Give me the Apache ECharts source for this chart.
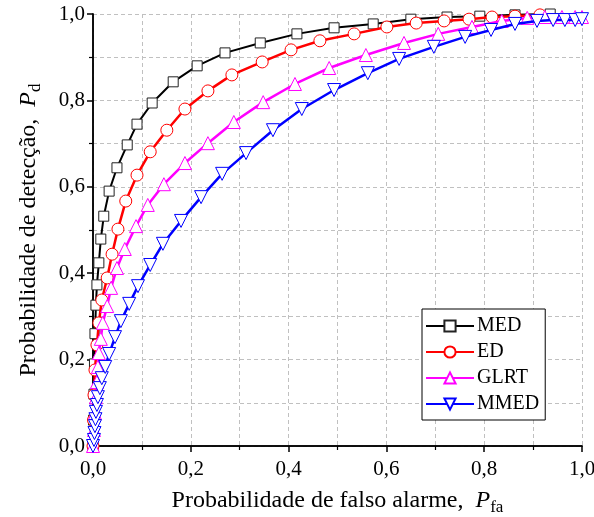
<!DOCTYPE html>
<html>
<head>
<meta charset="utf-8">
<script src="https://cdn.jsdelivr.net/npm/echarts@6/dist/echarts.min.js"></script>
<style>
  html, body { margin: 0; padding: 0; background: #fff; }
  #chart { width: 594px; height: 517px; }
</style>
</head>
<body>
<div id="chart"></div>
<script>
const seriesNames = ["MED", "ED", "GLRT", "MMED"];

const medX = [0, 0.001, 0.002, 0.003, 0.004, 0.006, 0.008, 0.012, 0.016, 0.022, 0.033, 0.049, 0.070, 0.090, 0.121, 0.164, 0.213, 0.270, 0.342, 0.417, 0.493, 0.573, 0.650, 0.724, 0.791, 0.863, 0.935, 1.0];
const medY = [0, 0.06, 0.12, 0.19, 0.26, 0.326, 0.373, 0.424, 0.479, 0.532, 0.590, 0.644, 0.697, 0.745, 0.794, 0.843, 0.880, 0.910, 0.933, 0.954, 0.968, 0.977, 0.988, 0.993, 0.995, 0.998, 1.0, 1.0];

const edX = [0, 0.001, 0.002, 0.004, 0.008, 0.012, 0.018, 0.029, 0.039, 0.051, 0.067, 0.090, 0.117, 0.151, 0.188, 0.235, 0.284, 0.346, 0.405, 0.464, 0.534, 0.601, 0.661, 0.718, 0.769, 0.816, 0.863, 0.914, 1.0];
const edY = [0, 0.06, 0.118, 0.176, 0.234, 0.285, 0.338, 0.389, 0.444, 0.502, 0.567, 0.627, 0.681, 0.731, 0.780, 0.822, 0.859, 0.889, 0.917, 0.938, 0.954, 0.970, 0.979, 0.984, 0.988, 0.993, 0.995, 0.998, 1.0];

const glrtX = [0, 0.002, 0.004, 0.006, 0.008, 0.010, 0.012, 0.016, 0.020, 0.029, 0.037, 0.049, 0.065, 0.088, 0.112, 0.145, 0.188, 0.235, 0.288, 0.348, 0.413, 0.483, 0.558, 0.636, 0.706, 0.775, 0.836, 0.888, 0.924, 0.959, 0.986, 1.0];
const glrtY = [0, 0.037, 0.076, 0.113, 0.148, 0.183, 0.215, 0.248, 0.285, 0.324, 0.366, 0.412, 0.456, 0.509, 0.558, 0.606, 0.655, 0.701, 0.750, 0.796, 0.838, 0.875, 0.905, 0.933, 0.954, 0.970, 0.984, 0.991, 0.993, 0.993, 0.993, 0.993];

const mmedX = [0, 0.002, 0.003, 0.004, 0.005, 0.006, 0.008, 0.010, 0.014, 0.018, 0.025, 0.033, 0.045, 0.057, 0.074, 0.092, 0.117, 0.143, 0.180, 0.221, 0.264, 0.313, 0.368, 0.427, 0.493, 0.562, 0.626, 0.697, 0.761, 0.814, 0.863, 0.908, 0.941, 0.965, 0.986, 1.0];
const mmedY = [0, 0.014, 0.030, 0.046, 0.062, 0.079, 0.095, 0.113, 0.134, 0.157, 0.183, 0.213, 0.252, 0.289, 0.329, 0.370, 0.419, 0.468, 0.521, 0.576, 0.630, 0.678, 0.731, 0.780, 0.824, 0.863, 0.896, 0.924, 0.947, 0.963, 0.977, 0.984, 0.986, 0.986, 0.986, 0.988];

const FONT = "Liberation Serif";
const fmt = (v) => v.toFixed(1).replace(".", ",");
// the black and red curves run on to the corner without a marker there
const pairs = (xs, ys, hideLast) =>
  xs.map((x, i) =>
    hideLast && i === xs.length - 1 ? { value: [x, ys[i]], symbol: "none" } : [x, ys[i]]
  );

const styles = [
  { color: "#000000", symbol: "rect", size: 10, rotate: 0, border: "#222", width: 2 },
  { color: "#ff0000", symbol: "circle", size: 12, rotate: 0, border: "#ff0000", width: 2.5 },
  { color: "#ff00ff", symbol: "triangle", size: 13, rotate: 0, border: "#ff00ff", width: 2.5 },
  { color: "#0000ff", symbol: "triangle", size: 13, rotate: 180, border: "#0000ff", width: 2.5 },
];
const datasets = [
  pairs(medX, medY, true),
  pairs(edX, edY, true),
  pairs(glrtX, glrtY, false),
  pairs(mmedX, mmedY, false),
];

const nameRich = {
  a: { fontFamily: FONT, fontSize: 24, color: "#000" },
  i: { fontFamily: FONT, fontSize: 24, fontStyle: "italic", color: "#000" },
  s: { fontFamily: FONT, fontSize: 17, color: "#000", padding: [13, 0, 0, 0] },
};

const axisCommon = {
  type: "value",
  min: 0,
  max: 1,
  interval: 0.2,
  axisLine: { show: true, lineStyle: { color: "#000", width: 1.5 } },
  axisTick: { show: true, length: 6, lineStyle: { color: "#000", width: 1.5 } },
  minorTick: { show: true, splitNumber: 2, length: 4, lineStyle: { color: "#000", width: 1.2 } },
  splitLine: { show: true, lineStyle: { color: "#c0c0c0", type: [4, 3], width: 1 } },
  minorSplitLine: { show: true, lineStyle: { color: "#c0c0c0", type: [4, 3], width: 1 } },
  axisLabel: { formatter: fmt, fontFamily: FONT, fontSize: 21, color: "#000" },
};

const chart = echarts.init(document.getElementById("chart"));
chart.setOption({
  animation: false,
  backgroundColor: "#fff",
  grid: { left: 93, right: 12, top: 14, bottom: 71, containLabel: false, outerBoundsMode: "none" },
  xAxis: [
    {
      ...axisCommon,
      position: "bottom",
      axisLabel: { ...axisCommon.axisLabel, margin: 13 },
      name: "{a|Probabilidade de falso alarme,  }{i|P}{s|fa}",
      nameLocation: "middle",
      nameGap: 40,
      nameTextStyle: { rich: nameRich },
    },
    {
      type: "value", min: 0, max: 1, position: "top",
      axisLine: { show: true, lineStyle: { color: "#000", width: 1.5 } },
      axisTick: { show: false }, axisLabel: { show: false }, splitLine: { show: false },
    },
  ],
  yAxis: [
    {
      ...axisCommon,
      position: "left",
      axisLabel: { ...axisCommon.axisLabel, margin: 8 },
      name: "{a|Probabilidade de detecção,  }{i|P}{s|d}",
      nameLocation: "middle",
      nameGap: 49,
      nameTextStyle: { rich: nameRich },
    },
    {
      type: "value", min: 0, max: 1, position: "right",
      axisLine: { show: true, lineStyle: { color: "#000", width: 1.5 } },
      axisTick: { show: false }, axisLabel: { show: false }, splitLine: { show: false },
    },
  ],
  legend: {
    orient: "vertical",
    left: 422,
    top: 309,
    itemWidth: 48,
    itemHeight: 14,
    itemGap: 6,
    padding: [7, 6, 6, 3],
    backgroundColor: "#fff",
    borderColor: "#000",
    borderWidth: 1,
    textStyle: { fontFamily: FONT, fontSize: 20, color: "#000", padding: [0, 0, 0, -2] },
    data: seriesNames,
  },
  series: seriesNames.map((name, k) => ({
    name,
    type: "line",
    data: datasets[k],
    symbol: styles[k].symbol,
    symbolSize: styles[k].size,
    symbolRotate: styles[k].rotate,
    showAllSymbol: true,
    lineStyle: { color: styles[k].color, width: styles[k].width },
    itemStyle: { color: "#fff", borderColor: styles[k].border, borderWidth: 1 },
    z: 2 + k,
  })),
});
</script>
</body>
</html>
